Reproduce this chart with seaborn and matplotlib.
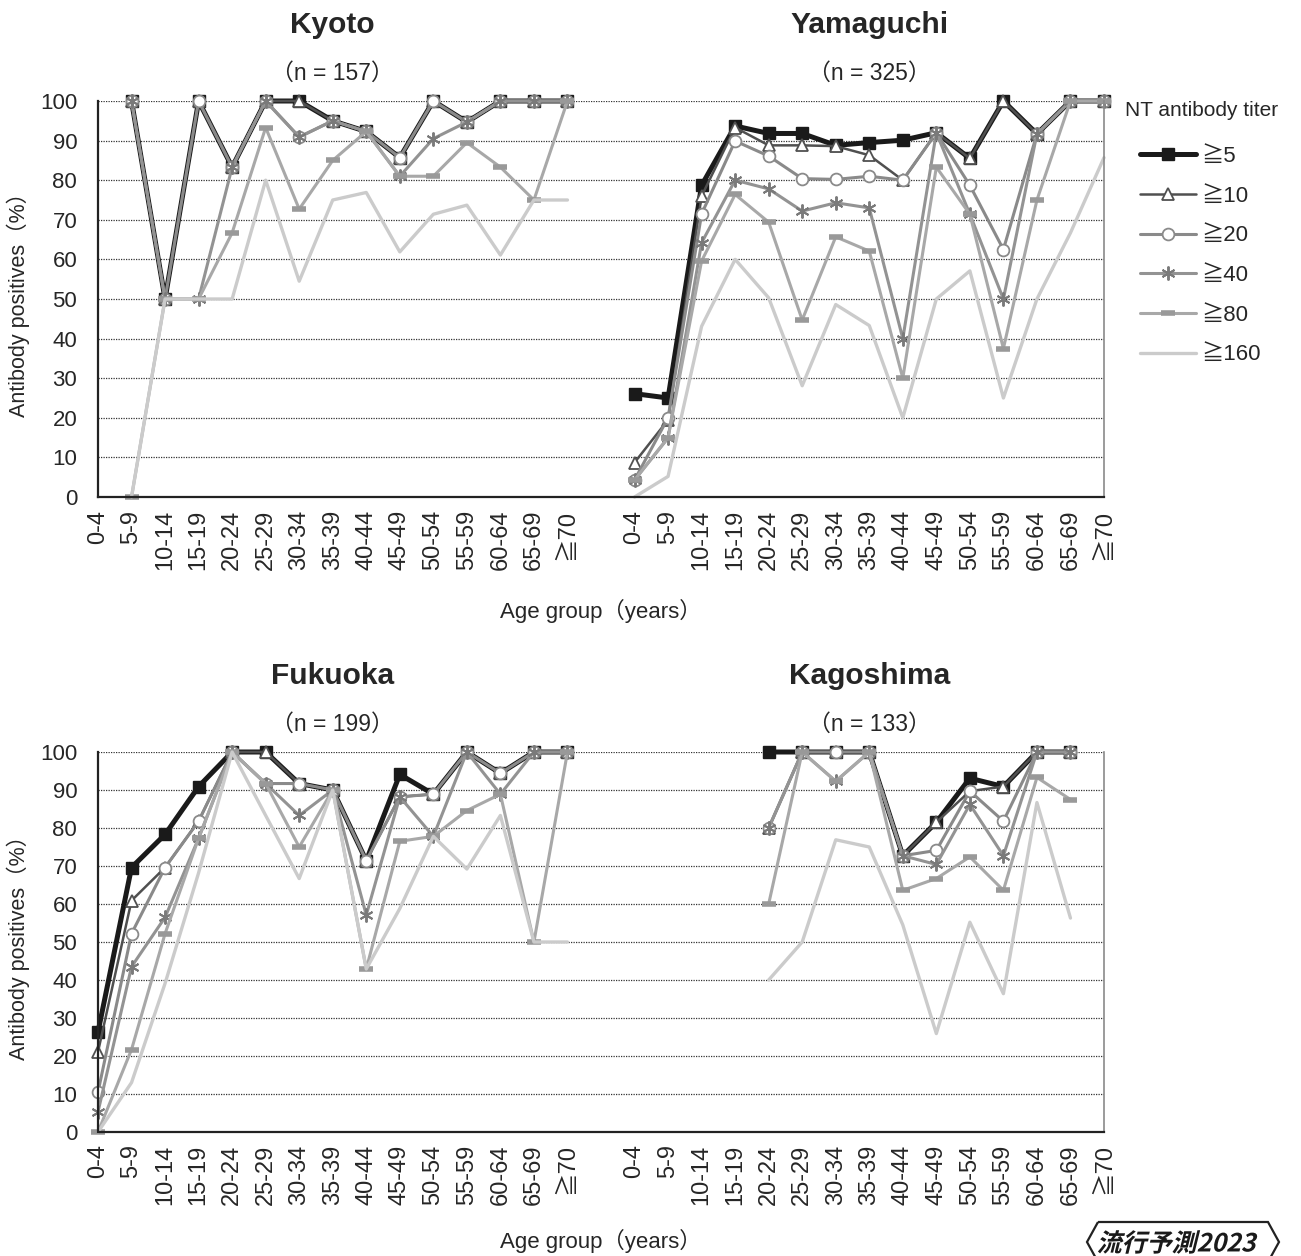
import numpy as np
import pandas as pd
import matplotlib
matplotlib.use("Agg")
import matplotlib.pyplot as plt
import seaborn as sns
from matplotlib.lines import Line2D
from matplotlib.patches import Polygon, PathPatch
from matplotlib.textpath import TextPath
from matplotlib.font_manager import FontProperties
from matplotlib.transforms import Affine2D

# --- datos ---
nan = np.nan
ages = ['0-4', '5-9', '10-14', '15-19', '20-24', '25-29', '30-34', '35-39',
        '40-44', '45-49', '50-54', '55-59', '60-64', '65-69', '≧70']
titers = ['≧5', '≧10', '≧20', '≧40', '≧80', '≧160']

kyoto = {
    '≧5':   [nan, 100, 50, 100, 83.3, 100, 100, 95, 92.3, 85.7, 100, 94.7, 100, 100, 100],
    '≧10':  [nan, 100, 50, 100, 83.3, 100, 100, 95, 92.3, 85.7, 100, 94.7, 100, 100, 100],
    '≧20':  [nan, 100, 50, 100, 83.3, 100, 90.9, 95, 92.3, 85.7, 100, 94.7, 100, 100, 100],
    '≧40':  [nan, 100, 50, 50, 83.3, 100, 90.9, 95, 92.3, 81, 90.5, 94.7, 100, 100, 100],
    '≧80':  [nan, 0, 50, 50, 66.7, 93.3, 72.7, 85, 92.3, 81, 81, 89.5, 83.3, 75, 100],
    '≧160': [nan, 0, 50, 50, 50, 80, 54.5, 75, 76.9, 61.9, 71.4, 73.7, 61.1, 75, 75],
}
yamaguchi = {
    '≧5':   [26.1, 25, 78.7, 93.7, 91.8, 91.8, 88.8, 89.5, 90.1, 92, 85.5, 100, 91.7, 100, 100],
    '≧10':  [8.7, 19.5, 76, 93.3, 88.8, 88.8, 88.6, 86.3, 80, 92, 85.5, 100, 91.7, 100, 100],
    '≧20':  [4.3, 20, 71.5, 89.9, 86.1, 80.4, 80.2, 81, 80, 92, 78.7, 62.5, 91.7, 100, 100],
    '≧40':  [4.3, 14.9, 64.2, 80, 77.8, 72.2, 74.3, 73, 40, 92, 71.4, 50, 91.7, 100, 100],
    '≧80':  [4.3, 15, 59.6, 76.4, 69.4, 44.7, 65.7, 62.1, 30, 83.3, 71.4, 37.5, 75, 100, 100],
    '≧160': [0, 5.2, 43.1, 60, 50.3, 28.1, 48.6, 43.3, 20, 50, 57.1, 25, 50, 66.7, 85.7],
}
fukuoka = {
    '≧5':   [26.3, 69.6, 78.3, 90.9, 100, 100, 91.7, 90, 71.4, 94.1, 88.9, 100, 94.4, 100, 100],
    '≧10':  [21.1, 60.9, 69.6, 81.8, 100, 100, 91.7, 90, 71.4, 88.2, 88.9, 100, 94.4, 100, 100],
    '≧20':  [10.5, 52.2, 69.6, 81.8, 100, 91.7, 91.7, 90, 71.4, 88.2, 88.9, 100, 94.4, 100, 100],
    '≧40':  [5.3, 43.5, 56.5, 77.3, 100, 91.7, 83.3, 90, 57.1, 88.2, 77.8, 100, 88.9, 100, 100],
    '≧80':  [0, 21.7, 52.2, 77.3, 100, 91.7, 75, 90, 42.9, 76.5, 77.8, 84.6, 88.9, 50, 100],
    '≧160': [0, 13, 39.1, 68.2, 100, 83.3, 66.7, 90, 42.9, 58.8, 77.8, 69.2, 83.3, 50, 50],
}
kagoshima = {
    '≧5':   [nan, nan, nan, nan, 100, 100, 100, 100, 72.7, 81.5, 93.1, 90.9, 100, 100, nan],
    '≧10':  [nan, nan, nan, nan, 80, 100, 100, 100, 72.7, 81.5, 89.7, 90.9, 100, 100, nan],
    '≧20':  [nan, nan, nan, nan, 80, 100, 100, 100, 72.7, 74.1, 89.7, 81.8, 100, 100, nan],
    '≧40':  [nan, nan, nan, nan, 80, 100, 92.3, 100, 72.7, 70.4, 86.2, 72.7, 100, 100, nan],
    '≧80':  [nan, nan, nan, nan, 60, 100, 92.3, 100, 63.6, 66.7, 72.4, 63.6, 93.3, 87.5, nan],
    '≧160': [nan, nan, nan, nan, 40, 50, 76.9, 75, 54.5, 25.9, 55.2, 36.4, 86.7, 56.3, nan],
}

regions = ['Kyoto', 'Yamaguchi', 'Fukuoka', 'Kagoshima']
region_n = [157, 325, 199, 133]
region_data = [kyoto, yamaguchi, fukuoka, kagoshima]

# tabla larga: la region de la derecha se desplaza 16 posiciones (hueco en 15)
rows = []
for i, (reg, dat) in enumerate(zip(regions, region_data)):
    offset = 0 if i % 2 == 0 else len(ages) + 1
    for t in titers:
        for j, v in enumerate(dat[t]):
            rows.append({'region': reg, 'titer': t, 'pos': j + offset, 'value': v})
df = pd.DataFrame(rows)

# --- estilo ---
sns.set_style('white')
plt.rcParams['font.family'] = ['Liberation Sans', 'Noto Sans CJK JP', 'DejaVu Sans']

styles = {
    '≧5':   dict(color='#1a1a1a', lw=3.6, marker='s', ms=9, mfc='#1a1a1a', mec='#1a1a1a', mew=1),
    '≧10':  dict(color='#505050', lw=1.8, marker='^', ms=8, mfc='white', mec='#505050', mew=1.3),
    '≧20':  dict(color='#8a8a8a', lw=2.2, marker='o', ms=8.5, mfc='white', mec='#8a8a8a', mew=1.3),
    '≧40':  dict(color='#939393', lw=2.2, marker=(6, 2, 0), ms=10, mec='#7a7a7a', mew=1.4),
    '≧80':  dict(color='#a8a8a8', lw=2.2, marker='_', ms=10, mec='#999999', mew=4),
    '≧160': dict(color='#cbcbcb', lw=2.4, marker=None),
}

W, H = 1301, 1256
fig = plt.figure(figsize=(W / 100, H / 100), dpi=100)


def fx(px):
    return px / W


def fy(py):
    return 1 - py / H


ax_top = fig.add_axes([fx(98), fy(497), fx(1104) - fx(98), fy(101) - fy(497)])
ax_bot = fig.add_axes([fx(98), fy(1132), fx(1104) - fx(98), fy(752) - fy(1132)])

tick_labels = ages + [''] + ages
for ax, pair in [(ax_top, ['Kyoto', 'Yamaguchi']), (ax_bot, ['Fukuoka', 'Kagoshima'])]:
    for reg in pair:
        for t in titers:
            sub = df[(df['region'] == reg) & (df['titer'] == t)].dropna()
            sns.lineplot(data=sub, x='pos', y='value', ax=ax, estimator=None,
                         errorbar=None, sort=False, clip_on=False, **styles[t])
    ax.set_xlim(0, 2 * len(ages))
    ax.set_ylim(0, 100)
    ax.set_yticks(range(0, 101, 10))
    ax.set_xticks(range(0, 2 * len(ages) + 1))
    ax.set_xticklabels(tick_labels, rotation=90, fontsize=17)
    ax.tick_params(axis='x', direction='out', length=7, width=1.2, color='#333333', pad=2)
    ax.tick_params(axis='y', length=0, pad=15, labelsize=16)
    ax.set_xlabel('')
    ax.set_ylabel('')
    ax.grid(axis='y', color='#333333', linestyle=(0, (1, 1)), linewidth=0.9)
    ax.set_axisbelow(True)
    ax.spines['top'].set_visible(False)
    ax.spines['right'].set_color('#8a8a8a')
    ax.spines['right'].set_linewidth(1.2)
    for s in ['left', 'bottom']:
        ax.spines[s].set_color('#222222')
        ax.spines[s].set_linewidth(1.6)

# titulos de cada region
step = (1104 - 98) / (2 * len(ages))
title_y = [25, 25, 676, 676]
for i, (reg, n) in enumerate(zip(regions, region_n)):
    cx = 98 + step * (7 if i % 2 == 0 else 23)
    fig.text(fx(cx), fy(title_y[i]), reg, ha='center', va='center',
             fontsize=21.5, fontweight='bold')
    fig.text(fx(cx), fy(title_y[i] + 48), f'（n = {n}）', ha='center', va='center',
             fontsize=16.5)

for cy, xl in [(299, 611), (942, 1241)]:
    fig.text(fx(18), fy(cy), 'Antibody positives（%）', rotation=90,
             ha='center', va='center', fontsize=15.5)
    fig.text(fx(601), fy(xl), 'Age group（years）', ha='center', va='center', fontsize=16)

# leyenda (titulo aparte, entradas con sangria)
fig.text(fx(1125), fy(110), 'NT antibody titer', ha='left', va='center', fontsize=15)
handles = [Line2D([], [], **styles[t]) for t in titers]
leg = fig.legend(handles, titers, loc='upper left',
                 bbox_to_anchor=(fx(1140), fy(146)), frameon=False, fontsize=16,
                 handlelength=2.5, labelspacing=0.84, handletextpad=0.25,
                 borderpad=0, borderaxespad=0)

# marca de agua
box = [(1098, 1222), (1268, 1222), (1279, 1242), (1268, 1262),
       (1098, 1262), (1087, 1242)]
fig.patches.append(Polygon([(fx(a), fy(b)) for a, b in box], closed=True, fill=False,
                           edgecolor='#222222', lw=1.6, transform=fig.transFigure,
                           figure=fig))
tp = TextPath((0, 0), '流行予測2023', size=18,
              prop=FontProperties(family='Noto Sans CJK JP', weight='bold'))
ext = tp.get_extents()
tr = (Affine2D().translate(-ext.x0 - ext.width / 2, -ext.y0 - ext.height / 2)
      .skew_deg(14, 0).scale(1 / 72)
      .translate(1178 / 100, (H - 1242) / 100) + fig.dpi_scale_trans)
fig.patches.append(PathPatch(tp, transform=tr, facecolor='#1a1a1a',
                             edgecolor='none', figure=fig))

fig.savefig('out.png', dpi=100)
